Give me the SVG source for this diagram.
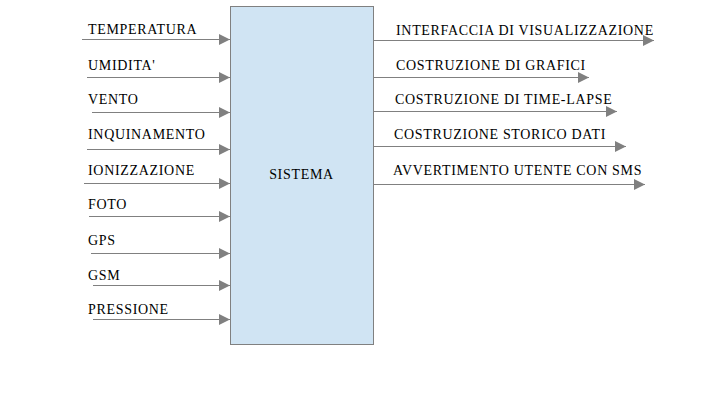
<svg xmlns="http://www.w3.org/2000/svg" width="704" height="413" viewBox="0 0 704 413">
<style>
text{font-family:"Liberation Serif",serif;font-size:14px;fill:#000;letter-spacing:0.68px}
.c{stroke:#808080;stroke-width:1;fill:none;marker-end:url(#ah)}
</style>
<defs>
<marker id="ah" markerUnits="userSpaceOnUse" markerWidth="11" markerHeight="11" refX="10" refY="5" orient="auto" viewBox="0 0 10 10">
<path d="M0,0 L10,5 L0,10 Z" fill="#808080"/>
</marker>
</defs>
<rect width="704" height="413" fill="#fff"/>
<g id="sistema">
<rect x="230.5" y="6.5" width="143" height="338" fill="#d0e4f3" stroke="#808080" stroke-width="1"/>
<text x="301.5" y="179" text-anchor="middle">SISTEMA</text>
</g>
<g id="connectors">
<line class="c" x1="82" y1="39.5" x2="230" y2="39.5"/>
<line class="c" x1="87" y1="77.5" x2="230" y2="77.5"/>
<line class="c" x1="92" y1="112.5" x2="230" y2="112.5"/>
<line class="c" x1="87" y1="149.5" x2="230" y2="149.5"/>
<line class="c" x1="84" y1="183.5" x2="230" y2="183.5"/>
<line class="c" x1="89" y1="216.5" x2="230" y2="216.5"/>
<line class="c" x1="91" y1="253.5" x2="230" y2="253.5"/>
<line class="c" x1="93" y1="285.5" x2="230" y2="285.5"/>
<line class="c" x1="93" y1="319.5" x2="230" y2="319.5"/>
<line class="c" x1="374" y1="40.5" x2="654" y2="40.5"/>
<line class="c" x1="374" y1="77.5" x2="589" y2="77.5"/>
<line class="c" x1="374" y1="111.5" x2="617" y2="111.5"/>
<line class="c" x1="374" y1="146.5" x2="626" y2="146.5"/>
<line class="c" x1="374" y1="184.5" x2="645" y2="184.5"/>
</g>
<g id="inputs">
<text x="88" y="34">TEMPERATURA</text>
<text x="88" y="70">UMIDITA'</text>
<text x="88" y="104">VENTO</text>
<text x="88" y="139">INQUINAMENTO</text>
<text x="88" y="175">IONIZZAZIONE</text>
<text x="88" y="209">FOTO</text>
<text x="88" y="245">GPS</text>
<text x="88" y="280">GSM</text>
<text x="88" y="314">PRESSIONE</text>
</g>
<g id="outputs">
<text x="396" y="35">INTERFACCIA DI VISUALIZZAZIONE</text>
<text x="396" y="70">COSTRUZIONE DI GRAFICI</text>
<text x="395" y="104">COSTRUZIONE DI TIME-LAPSE</text>
<text x="394" y="139">COSTRUZIONE STORICO DATI</text>
<text x="393" y="175">AVVERTIMENTO UTENTE CON SMS</text>
</g>
</svg>
